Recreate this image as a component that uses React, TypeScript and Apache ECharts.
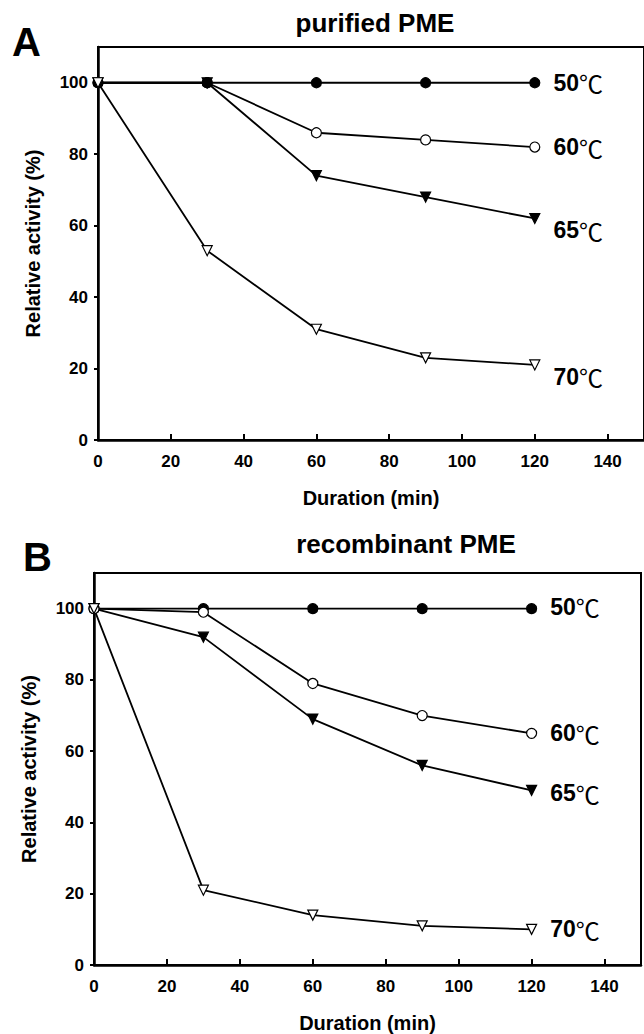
import React, { useEffect, useRef } from "react";
import * as echarts from "echarts";

// ---- data ----
const durations = [0, 30, 60, 90, 120];
const temperatures = ["50", "60", "65", "70"];

const purified50 = [100, 100, 100, 100, 100];
const purified60 = [100, 100, 86, 84, 82];
const purified65 = [100, 100, 74, 68, 62];
const purified70 = [100, 53, 31, 23, 21];

const recombinant50 = [100, 100, 100, 100, 100];
const recombinant60 = [100, 99, 79, 70, 65];
const recombinant65 = [100, 92, 69, 56, 49];
const recombinant70 = [100, 21, 14, 11, 10];

const xTicks = [0, 20, 40, 60, 80, 100, 120, 140];
const yTicks = [0, 20, 40, 60, 80, 100];

const panelTitles = ["purified PME", "recombinant PME"];
const panelLetters = ["A", "B"];

// ---- styling ----
const FONT = "'Liberation Sans', Arial, Helvetica, sans-serif";

const markerStyles = [
  { symbol: "circle", fill: "#000", size: 10, rotate: 0 },
  { symbol: "circle", fill: "#fff", size: 10, rotate: 0 },
  { symbol: "triangle", fill: "#000", size: 10, rotate: 180 },
  { symbol: "triangle", fill: "#fff", size: 10, rotate: 180 },
];
const drawOrders = [
  [1, 2, 0, 3],
  [0, 2, 1, 3],
];
const labelOffsets = [
  [[0, 0], [0, 0], [0, 12], [0, 12]],
  [[0, -2], [0, 0], [0, 3], [0, 0]],
];

const grids = [
  { left: 98, top: 47, width: 548, height: 393 },
  { left: 94, top: 573, width: 547, height: 394 },
];

export default function App() {
  const ref = useRef<HTMLDivElement>(null);
  useEffect(() => {
    if (!ref.current) return;
    const chart = echarts.init(ref.current, undefined, { renderer: "svg" });
    const panels = [
      [purified50, purified60, purified65, purified70],
      [recombinant50, recombinant60, recombinant65, recombinant70],
    ];

    const xAxis = grids.map((_, gi) => ({
      type: "value",
      gridIndex: gi,
      min: 0,
      max: 150,
      interval: 20,
      name: "Duration (min)",
      nameLocation: "middle",
      nameGap: 48,
      nameTextStyle: { fontFamily: FONT, fontWeight: "bold", fontSize: 20, color: "#000" },
      axisLine: { show: true, lineStyle: { color: "#000", width: 2.5 } },
      axisTick: { show: true, inside: true, length: 6, lineStyle: { color: "#000", width: 2 } },
      axisLabel: {
        fontFamily: FONT,
        fontWeight: "bold",
        fontSize: 17,
        color: "#000",
        margin: 13,
        showMaxLabel: false,
        formatter: (v: number) => (xTicks.includes(v) ? String(v) : ""),
      },
      splitLine: { show: false },
    }));

    const yAxis = grids.map((_, gi) => ({
      type: "value",
      gridIndex: gi,
      min: 0,
      max: 110,
      interval: 20,
      name: "Relative activity (%)",
      nameLocation: "middle",
      nameGap: 55,
      nameTextStyle: { fontFamily: FONT, fontWeight: "bold", fontSize: 20, color: "#000" },
      axisLine: { show: true, lineStyle: { color: "#000", width: 2.5 } },
      axisTick: { show: true, inside: false, length: 4, lineStyle: { color: "#000", width: 2 } },
      axisLabel: {
        fontFamily: FONT,
        fontWeight: "bold",
        fontSize: 17,
        color: "#000",
        margin: 10,
        showMaxLabel: false,
        formatter: (v: number) => (yTicks.includes(v) ? String(v) : ""),
      },
      splitLine: { show: false },
    }));

    const series: any[] = [];
    panels.forEach((sets, pi) => {
      drawOrders[pi].forEach((si) => {
        const vals = sets[si];
        const st = markerStyles[si];
        const data = durations.map((x, i) => {
          if (i === durations.length - 1) {
            return {
              value: [x, vals[i]],
              label: {
                show: true,
                position: "right",
                distance: 13,
                offset: labelOffsets[pi][si],
                formatter: `{n|${temperatures[si]}}{c|℃}`,
                rich: {
                  n: { fontFamily: FONT, fontWeight: "bold", fontSize: 23, color: "#000" },
                  c: { fontFamily: "'Noto Sans CJK SC', sans-serif", fontWeight: "normal", fontSize: 24, color: "#000" },
                },
              },
            };
          }
          return { value: [x, vals[i]] };
        });
        series.push({
          type: "line",
          name: `${panelTitles[pi]} ${temperatures[si]}`,
          xAxisIndex: pi,
          yAxisIndex: pi,
          data,
          symbol: st.symbol,
          symbolSize: st.size,
          symbolRotate: st.rotate,
          showAllSymbol: true,
          lineStyle: { color: "#000", width: 1.8 },
          itemStyle: { color: st.fill, borderColor: "#000", borderWidth: 1.2 },
          emphasis: { disabled: true },
          silent: true,
        });
      });
    });

    chart.setOption({
      animation: false,
      backgroundColor: "#fff",
      grid: grids.map((g) => ({
        ...g,
        show: true,
        borderColor: "#000",
        borderWidth: 2,
        backgroundColor: "transparent",
        containLabel: false,
      })),
      xAxis,
      yAxis,
      series,
      graphic: [
        {
          type: "text",
          x: 375,
          y: 23,
          style: { text: panelTitles[0], font: `bold 26px ${FONT}`, fill: "#000", textAlign: "center", textVerticalAlign: "middle" },
        },
        {
          type: "text",
          x: 406,
          y: 544,
          style: { text: panelTitles[1], font: `bold 26px ${FONT}`, fill: "#000", textAlign: "center", textVerticalAlign: "middle" },
        },
        {
          type: "text",
          x: 12,
          y: 42,
          style: { text: panelLetters[0], font: `bold 40px ${FONT}`, fill: "#000", textAlign: "left", textVerticalAlign: "middle" },
        },
        {
          type: "text",
          x: 23,
          y: 557,
          style: { text: panelLetters[1], font: `bold 40px ${FONT}`, fill: "#000", textAlign: "left", textVerticalAlign: "middle" },
        },
      ],
    });
    return () => chart.dispose();
  }, []);
  return (
    <div
      ref={ref}
      style={{ position: "absolute", left: 0, top: 0, width: 644, height: 1034, background: "#fff" }}
    />
  );
}
